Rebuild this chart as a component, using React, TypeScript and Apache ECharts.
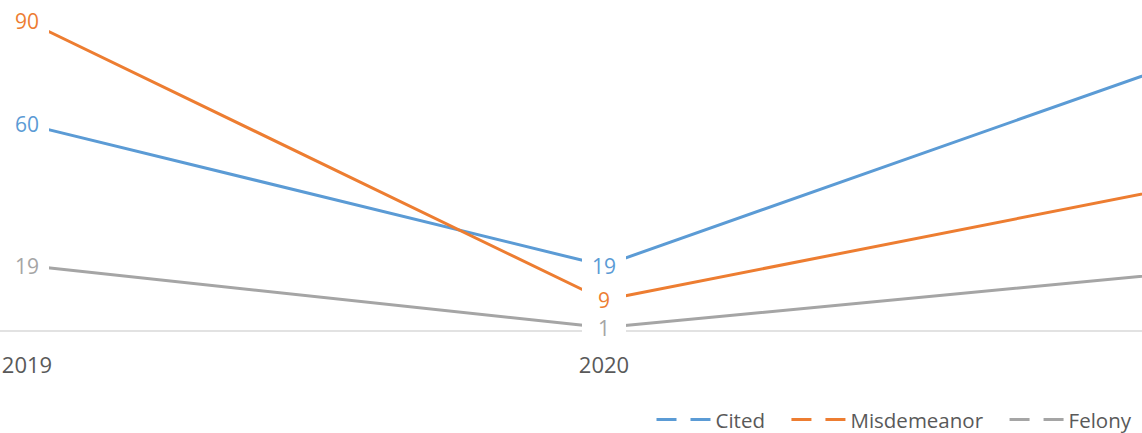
import React, { useEffect, useRef } from "react";
import * as echarts from "echarts";

// Incident outcomes per year
const years = ["2019", "2020", "2021"];
const cited = [60, 19, 78];
const misdemeanor = [90, 9, 42];
const felony = [19, 1, 17];

const seriesNames = ["Cited", "Misdemeanor", "Felony"];
const seriesColors = ["#5B9BD5", "#ED7D31", "#A5A5A5"];

// only the first two years fall inside the visible part of the plot
const labelledYears = 2;

const FONT = "'Open Sans', sans-serif";

function makeSeries(name: string, values: number[], color: string) {
  return {
    name,
    type: "line",
    data: values.map((v, i) => ({ value: v, label: { show: i < labelledYears } })),
    symbol: "circle",
    symbolSize: 0,
    clip: false,
    lineStyle: { color, width: 3 },
    itemStyle: { color },
    label: {
      show: true,
      position: "inside",
      formatter: "{c}",
      color,
      fontFamily: FONT,
      fontSize: 21,
      backgroundColor: "#ffffff",
      width: 44,
      height: 24,
      lineHeight: 24,
      align: "center",
      verticalAlign: "middle",
    },
    emphasis: { disabled: true },
  };
}

export default function App() {
  const ref = useRef<HTMLDivElement>(null);

  useEffect(() => {
    if (!ref.current) return;
    const chart = echarts.init(ref.current, undefined, { renderer: "svg" });
    chart.setOption({
      animation: false,
      backgroundColor: "#ffffff",
      // the plot runs past the right edge; only the first two years and part of the third are in view
      grid: {
        left: -261.5,
        width: 1731,
        top: 21,
        height: 310,
        outerBoundsMode: "none",
        containLabel: false,
      },
      xAxis: {
        type: "category",
        data: years,
        boundaryGap: true,
        axisLine: { show: true, lineStyle: { color: "#D9D9D9", width: 1.5 } },
        axisTick: { show: false },
        axisLabel: {
          color: "#595959",
          fontFamily: FONT,
          fontSize: 22,
          margin: 22,
          interval: (index: number) => index < labelledYears,
        },
        splitLine: { show: false },
      },
      yAxis: {
        type: "value",
        min: 0,
        max: 90,
        show: false,
        splitLine: { show: false },
      },
      legend: {
        data: seriesNames,
        left: 655,
        top: 409,
        padding: 0,
        itemWidth: 54,
        itemHeight: 14,
        itemGap: 25,
        selectedMode: false,
        itemStyle: { opacity: 0 },
        lineStyle: { type: [20, 14], width: 3, cap: "butt" },
        textStyle: { color: "#595959", fontFamily: FONT, fontSize: 20.5 },
      },
      series: [
        makeSeries(seriesNames[0], cited, seriesColors[0]),
        makeSeries(seriesNames[1], misdemeanor, seriesColors[1]),
        makeSeries(seriesNames[2], felony, seriesColors[2]),
      ],
    });
    return () => chart.dispose();
  }, []);

  return (
    <div
      ref={ref}
      style={{ position: "absolute", left: 0, top: 0, width: 1142, height: 433 }}
    />
  );
}
